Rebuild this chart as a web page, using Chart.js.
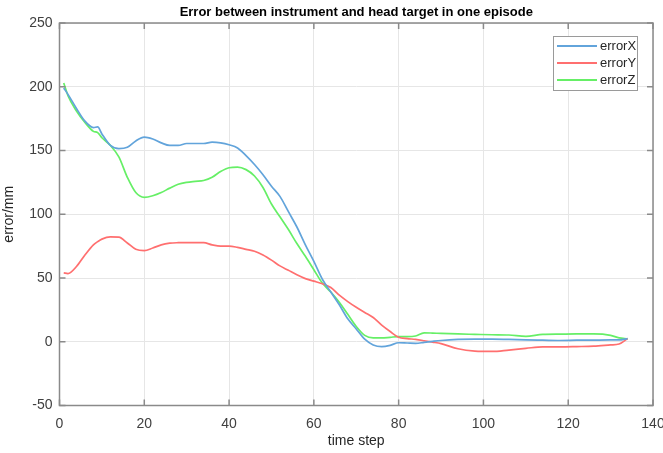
<!DOCTYPE html>
<html lang="en">
<head>
    <meta charset="UTF-8">
    <title>Error between instrument and head target</title>
    <script src="https://cdn.jsdelivr.net/npm/chart.js"></script>
    <style>
        body { margin: 0; background: #fff; }
        canvas { display: block; }
    </style>
</head>
<body>
    <canvas id="errChart" width="663" height="453"></canvas>

    <script>
        const timeStep = [1, 2, 4, 6, 8, 9, 10, 12, 14, 16, 18, 20, 22, 24, 26, 28, 30, 32, 34, 36, 38, 40,
            42, 44, 46, 48, 50, 52, 54, 56, 58, 60, 62, 64, 66, 68, 70, 72, 74, 76, 78, 80,
            82, 84, 86, 88, 90, 94, 98, 102, 106, 110, 114, 118, 122, 126, 130, 132, 134];

        const errorX = [199, 194, 183, 173, 168, 168.5, 163, 154, 151.5, 152.5, 157.5, 160.5, 159, 156, 154, 154, 155.5, 155.5, 155.5, 156.5, 156, 154.5,
            152, 146, 139, 131, 122, 114, 102, 90, 76, 63, 49, 39, 29, 18, 10, 2, -2.5, -3.8, -2.8, -0.8,
            -1, -1.2, -0.5, 0.3, 1, 1.8, 2, 2, 1.8, 1.4, 1.2, 1, 1.2, 1.3, 1.4, 1.4, 2.5];

        const errorY = [54, 53.5, 59, 68, 76, 78.5, 80.5, 82.2, 82, 77.5, 72.5, 71.5, 73.5, 76, 77.3, 77.7, 77.8, 77.8, 77.7, 76, 75, 75,
            74, 72.5, 71, 68, 64, 59.5, 56, 52.5, 49.5, 47.5, 45.5, 42.5, 36.5, 31.5, 27, 23, 19, 13, 8, 3.5,
            2.5, 1.8, 0.8, -0.3, -1.5, -5.5, -7.3, -7.6, -6.5, -5.2, -4, -4, -3.8, -3.5, -2.5, -1.8, 2.5];

        const errorZ = [203, 193, 181, 172, 165, 164, 160, 154, 145, 129, 117, 113.3, 114.5, 117, 120.5, 123.5, 125, 125.8, 126.5, 129, 133.5, 136.5,
            137, 135, 130, 121, 108, 98, 88, 77, 67, 56.5, 46, 39, 31, 21.5, 12, 5, 3, 3, 3.5, 4,
            4, 4.5, 7, 6.8, 6.5, 6.1, 5.8, 5.5, 5.3, 4.2, 5.8, 6, 6.1, 6.1, 5, 3, 2.3];

        const seriesNames = ['errorX', 'errorY', 'errorZ'];
        const seriesColors = ['#62a4db', '#ff6f6f', '#66ef66'];
        const xTicks = [0, 20, 40, 60, 80, 100, 120, 140];
        const yTicks = [-50, 0, 50, 100, 150, 200, 250];

        const titleText = 'Error between instrument and head target in one episode';

        function toPoints(values) {
            return timeStep.map((t, i) => ({ x: t, y: values[i] }));
        }

        // MATLAB style box, inward ticks, title and legend
        const matlabFrame = {
            id: 'matlabFrame',
            afterDatasetsDraw(chart) {
                const ctx = chart.ctx;
                const area = chart.chartArea;
                const xs = chart.scales.x;
                const ys = chart.scales.y;
                const tl = 6;

                ctx.save();
                ctx.strokeStyle = '#8a8a8a';
                ctx.lineWidth = 1.5;
                ctx.beginPath();
                xTicks.forEach(v => {
                    const px = xs.getPixelForValue(v);
                    ctx.moveTo(px, area.bottom); ctx.lineTo(px, area.bottom - tl);
                    ctx.moveTo(px, area.top); ctx.lineTo(px, area.top + tl);
                });
                yTicks.forEach(v => {
                    const py = ys.getPixelForValue(v);
                    ctx.moveTo(area.left, py); ctx.lineTo(area.left + tl, py);
                    ctx.moveTo(area.right, py); ctx.lineTo(area.right - tl, py);
                });
                ctx.stroke();
                ctx.strokeRect(area.left, area.top, area.right - area.left, area.bottom - area.top);

                // title
                ctx.fillStyle = '#000';
                ctx.font = 'bold 13px "Liberation Sans", Arial, sans-serif';
                ctx.textAlign = 'center';
                ctx.textBaseline = 'middle';
                ctx.fillText(titleText, (area.left + area.right) / 2, 12);

                // legend
                const lx = 553, ly = 36, lw = 84, lh = 54;
                ctx.fillStyle = '#fff';
                ctx.fillRect(lx, ly, lw, lh);
                ctx.strokeStyle = '#9a9a9a';
                ctx.lineWidth = 1;
                ctx.strokeRect(lx + 0.5, ly + 0.5, lw, lh);
                ctx.font = '13px "Liberation Sans", Arial, sans-serif';
                ctx.textAlign = 'left';
                chart.data.datasets.forEach((ds, i) => {
                    const ry = 46 + i * 17;
                    ctx.strokeStyle = ds.borderColor;
                    ctx.lineWidth = 2;
                    ctx.beginPath();
                    ctx.moveTo(557, ry); ctx.lineTo(597, ry);
                    ctx.stroke();
                    ctx.fillStyle = '#262626';
                    ctx.fillText(ds.label, 600, ry);
                });
                ctx.restore();
            }
        };

        const ctx = document.getElementById('errChart').getContext('2d');
        const tickFont = { family: '"Liberation Sans", Arial, sans-serif', size: 14 };

        new Chart(ctx, {
            type: 'line',
            data: {
                datasets: [errorX, errorY, errorZ].map((vals, i) => ({
                    label: seriesNames[i],
                    data: toPoints(vals),
                    borderColor: seriesColors[i],
                    backgroundColor: seriesColors[i],
                    borderWidth: 1.7,
                    pointRadius: 0,
                    fill: false,
                    cubicInterpolationMode: 'monotone'
                }))
            },
            options: {
                responsive: false,
                animation: false,
                devicePixelRatio: 1,
                layout: { padding: { top: 23, right: 10, left: 0, bottom: 0 } },
                plugins: {
                    legend: { display: false },
                    title: { display: false },
                    tooltip: { enabled: false }
                },
                scales: {
                    x: {
                        type: 'linear',
                        min: 0,
                        max: 140,
                        afterBuildTicks(scale) { scale.ticks = xTicks.map(v => ({ value: v })); },
                        afterFit(scale) {
                            scale.height = 47.5;
                            scale.paddingLeft = 0;
                            scale.paddingRight = 0;
                        },
                        grid: { color: '#e6e6e6', drawTicks: false },
                        border: { display: false },
                        ticks: { font: tickFont, color: '#404040', padding: 10, maxRotation: 0 },
                        title: {
                            display: true,
                            text: 'time step',
                            font: tickFont,
                            color: '#262626',
                            padding: { top: 0, bottom: 3 }
                        }
                    },
                    y: {
                        min: -50,
                        max: 250,
                        afterBuildTicks(scale) { scale.ticks = yTicks.map(v => ({ value: v })); },
                        afterFit(scale) {
                            scale.width = 59.5;
                            scale.paddingTop = 0;
                            scale.paddingBottom = 0;
                        },
                        grid: { color: '#e6e6e6', drawTicks: false },
                        border: { display: false },
                        ticks: { font: tickFont, color: '#404040', padding: 7 },
                        title: {
                            display: true,
                            text: 'error/mm',
                            font: tickFont,
                            color: '#262626',
                            padding: { top: 1, bottom: 0 }
                        }
                    }
                }
            },
            plugins: [matlabFrame]
        });
    </script>
</body>
</html>
